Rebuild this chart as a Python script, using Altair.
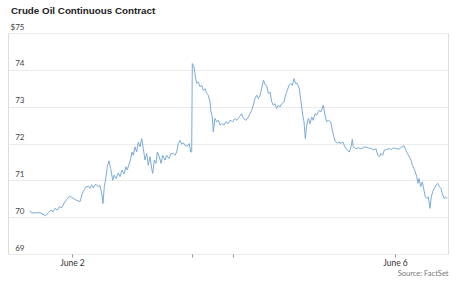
import altair as alt
import pandas as pd

# Trading-session position (chart units) and continuous-contract price in USD
t = [30, 31.7, 35, 40, 43, 45.7, 48.3, 51, 53.3, 55, 57.3, 59.3, 61.7, 64.3, 66.7, 69.3, 71.7, 75, 78.3, 80,
     82.3, 84.3, 86, 88.3, 90, 91.7, 93.3, 95.7, 98.3, 100, 101.7, 103, 104.3,
     105.5, 107.3, 109, 110.7, 112.7, 114, 116, 118.3, 120, 122, 124, 126, 127.3, 129.3, 130.7, 132, 133.3,
     135, 136.7, 138.3, 140, 141.7, 143.3, 145, 146.7, 148.3, 150, 151.7, 152.7, 154.3, 156, 157.3, 159.3,
     161, 162.7, 165, 166.7, 169, 171, 173.3, 175, 176.7, 178.3, 180, 181.7, 183.3, 185, 187.3, 189.3,
     190.7, 191.7,
     192.3, 194, 195.7, 196.7, 198.3, 200, 201.7, 203.3, 205, 206.7, 208.3, 210, 211, 212.3, 213.3, 215,
     216.7, 218.3, 220, 221.7, 224, 226, 228.3, 230, 232.7, 235, 236.7, 239.3, 241.7, 243.3, 246, 248.3,
     250, 251.7, 253.3, 255, 256.7, 258.3,
     260, 261.7, 263.5, 265, 266.7, 268.3, 270, 271.7, 273.3, 275, 276.7, 278.3, 280, 281.7, 284, 286,
     287.3, 289, 290.7, 292.3, 294, 295.7, 297.3, 299.3, 301, 302.7, 304, 305.3, 306.7, 308.3, 310, 311.7,
     313.3, 315, 316.7, 319, 321, 323.3, 325, 326.7, 328.3, 330.7, 332.7, 335, 337.3, 339.3,
     340, 342.7, 345, 347.3, 349.3, 351, 352.3, 353.3, 356, 358.3, 361.7, 365, 368.3, 371.7, 374, 376,
     377.7, 379.3, 381, 382.7, 384.3, 386.7, 389.3,
     391.7, 393.3, 396.7, 399.3, 401.7, 404, 406, 407.3, 409.3, 411, 412.3, 414, 415.3, 416.7, 418, 419,
     420.7, 422.3, 424, 425.3, 426.7, 428.3, 430, 431.3, 432.7, 434.3, 436, 437.7, 439.3, 441, 442.3, 444,
     445.7, 447]

price = [70.18, 70.11, 70.12, 70.12, 70.08, 70.04, 70.12, 70.19, 70.15, 70.24, 70.19, 70.28, 70.26, 70.39,
         70.48, 70.57, 70.54, 70.48, 70.44, 70.42,
         70.64, 70.75, 70.82, 70.84, 70.78, 70.88, 70.80, 70.90, 70.82, 70.86, 70.65, 70.37, 70.83,
         71.00, 71.37, 71.53, 71.32, 71.00, 71.14, 71.05, 71.20, 71.10, 71.28, 71.17, 71.37, 71.28, 71.46,
         71.59, 71.77, 71.68,
         71.91, 71.77, 72.04, 71.91, 72.13, 71.86, 71.55, 71.73, 71.41, 71.64, 71.32, 71.19, 71.55, 71.46,
         71.77, 71.64,
         71.46, 71.68, 71.55, 71.68, 71.59, 71.73, 71.73, 71.68, 71.77, 72.00, 72.09, 71.98, 72.02, 71.95,
         71.93, 72.00,
         71.77, 71.77,
         74.17, 74.08, 73.76, 73.63, 73.67, 73.54, 73.58, 73.44, 73.49, 73.36, 73.31, 73.13, 72.86, 72.72,
         72.31, 72.68,
         72.59, 72.63, 72.50, 72.54, 72.50, 72.59, 72.54, 72.63, 72.59, 72.68, 72.63, 72.72, 72.81, 72.68,
         72.63, 72.72,
         72.81, 72.90, 73.04, 73.22, 73.31, 73.22,
         73.30, 73.50, 73.72, 73.60, 73.58, 73.36, 73.40, 73.13, 73.04, 73.08, 72.95, 73.04, 72.99, 73.08,
         73.13, 73.36,
         73.44, 73.58, 73.63, 73.58, 73.76, 73.63, 73.63, 73.49, 73.13, 72.77, 72.59, 72.13, 72.50, 72.68,
         72.54, 72.72,
         72.63, 72.81, 72.77, 72.90, 72.86, 73.04, 72.77, 72.59, 72.63, 72.59, 72.31, 72.07, 72.01, 72.04,
         72.00, 72.04, 71.91, 71.82, 71.77, 71.91, 72.11, 71.91, 71.86, 71.88, 71.86, 71.91, 71.88, 71.86,
         71.82, 71.86,
         71.68, 71.64, 71.73, 71.68, 71.82, 71.84, 71.86,
         71.84, 71.88, 71.86, 71.85, 71.91, 71.94, 71.82, 71.73, 71.64, 71.55, 71.41, 71.32, 71.23, 71.10,
         70.92, 71.05,
         70.83, 70.96, 70.73, 70.55, 70.51, 70.55, 70.24, 70.55, 70.69, 70.78, 70.87, 70.92, 70.83, 70.78,
         70.64, 70.51,
         70.55, 70.50]

x_tick_values = [72, 192, 233, 395]
x_tick_labels = ["June 2", "", "", "June 6"]
y_tick_values = [69, 70, 71, 72, 73, 74, 75]

df = pd.DataFrame({"t": t, "price": price})

label_map = "{" + ", ".join(f"'{v}': '{l}'" for v, l in zip(x_tick_values, x_tick_labels)) + "}"

line = alt.Chart(df).mark_line(color="#7aabd8", strokeWidth=1.0, interpolate="linear").encode(
    x=alt.X("t:Q",
            scale=alt.Scale(domain=[8, 448], nice=False, zero=False),
            axis=alt.Axis(values=x_tick_values,
                          labelExpr=f"{label_map}[toString(datum.value)]",
                          grid=False, domain=False, ticks=True, tickSize=3, tickColor="#999999",
                          tickWidth=1,
                          labelFont="Lato", labelFontSize=8.5, labelColor="#333333", labelPadding=1,
                          labelFlush=False,
                          title="Source: FactSet", titleFont="Lato", titleFontSize=7.5,
                          titleFontWeight="normal", titleColor="#777777",
                          titleAnchor="end", titleAlign="right", titlePadding=3)),
    y=alt.Y("price:Q",
            scale=alt.Scale(domain=[69, 75], nice=False, zero=False),
            axis=alt.Axis(values=y_tick_values,
                          labelExpr="datum.value == 75 ? '$75' : datum.label",
                          grid=True, gridColor="#ebebeb", gridWidth=1,
                          domain=False, ticks=False,
                          labelAlign="right", labelBaseline="bottom", labelPadding=-16,
                          labelOffset=-2,
                          labelFont="Lato", labelFontSize=8, labelColor="#444444",
                          title=None)),
)

chart = line.properties(
    width=440,
    height=221,
    autosize=alt.AutoSizeParams(type="none"),
    padding={"left": 8, "top": 33, "right": 12, "bottom": 37},
    title=alt.TitleParams("Crude Oil Continuous Contract", anchor="start", frame="group",
                          font="Liberation Sans", fontSize=9.8, fontWeight="bold",
                          color="#222222", offset=7, dx=3),
).configure_view(stroke=None).configure(background="white")

chart.save("out.html", embed_options={"renderer": "svg", "actions": False})
